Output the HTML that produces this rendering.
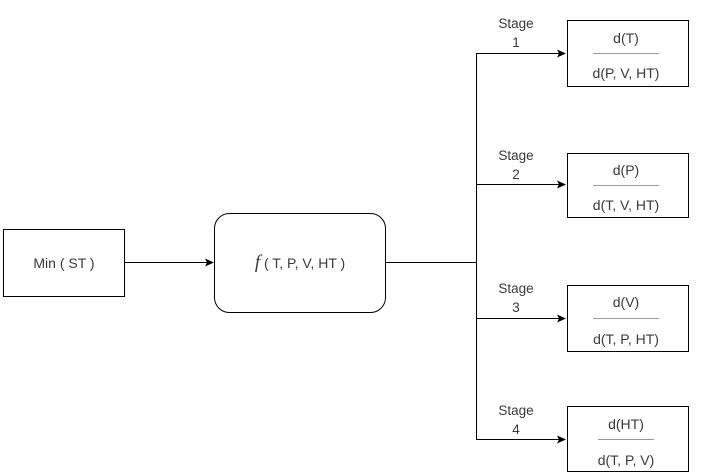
<!DOCTYPE html>
<html><head><meta charset="utf-8"><style>
html,body{margin:0;padding:0;background:#fff;}
svg{display:block;}
text{font-family:"Liberation Sans",Arial,sans-serif;fill:#3a3a3a;font-size:14px;}
.s{font-size:13.5px;}
</style></head><body>
<svg width="701" height="474" viewBox="0 0 701 474" xmlns="http://www.w3.org/2000/svg">
<defs>
<marker id="a" markerWidth="10" markerHeight="10" refX="8" refY="4" orient="auto" markerUnits="userSpaceOnUse">
<path d="M0,0 L9,4 L0,8 L2,4 Z" fill="#000"/>
</marker>
</defs>
<!-- Min box -->
<rect x="3.5" y="229.5" width="121" height="67" fill="#fff" stroke="#000" stroke-width="1"/>
<text x="64" y="268" text-anchor="middle">Min ( ST )</text>
<!-- arrow to f -->
<line x1="124.5" y1="262.5" x2="213" y2="262.5" stroke="#000" stroke-width="1" marker-end="url(#a)"/>
<!-- f box -->
<rect x="214.5" y="213.5" width="171" height="99" rx="15" ry="15" fill="#fff" stroke="#000" stroke-width="1"/>
<text x="300" y="268" text-anchor="middle"><tspan font-style="italic" font-size="19" font-family="Liberation Serif, serif">f</tspan> ( T, P, V, HT )</text>
<!-- connector -->
<line x1="385.5" y1="262.5" x2="476.5" y2="262.5" stroke="#000"/>
<line x1="476.5" y1="53" x2="476.5" y2="439.5" stroke="#000"/>
<line x1="476" y1="53.5" x2="565" y2="53.5" stroke="#000" marker-end="url(#a)"/>
<line x1="476" y1="184.5" x2="565" y2="184.5" stroke="#000" marker-end="url(#a)"/>
<line x1="476" y1="318.5" x2="565" y2="318.5" stroke="#000" marker-end="url(#a)"/>
<line x1="476" y1="439.5" x2="565" y2="439.5" stroke="#000" marker-end="url(#a)"/>
<!-- stage labels -->
<text class="s" x="516" y="28" text-anchor="middle">Stage</text>
<text class="s" x="516" y="47" text-anchor="middle">1</text>
<text class="s" x="516" y="160" text-anchor="middle">Stage</text>
<text class="s" x="516" y="179" text-anchor="middle">2</text>
<text class="s" x="516" y="293" text-anchor="middle">Stage</text>
<text class="s" x="516" y="312" text-anchor="middle">3</text>
<text class="s" x="516" y="415" text-anchor="middle">Stage</text>
<text class="s" x="516" y="434" text-anchor="middle">4</text>
<!-- box 1 -->
<rect x="567.5" y="20.5" width="121" height="66" fill="#fff" stroke="#000"/>
<text x="626" y="43" text-anchor="middle">d(T)</text>
<line x1="593" y1="53.5" x2="659" y2="53.5" stroke="#999"/>
<text x="626" y="78" text-anchor="middle">d(P, V, HT)</text>
<!-- box 2 -->
<rect x="567.5" y="153.5" width="121" height="64" fill="#fff" stroke="#000"/>
<text x="626" y="175" text-anchor="middle">d(P)</text>
<line x1="593" y1="185.5" x2="659" y2="185.5" stroke="#999"/>
<text x="626" y="210" text-anchor="middle">d(T, V, HT)</text>
<!-- box 3 -->
<rect x="567.5" y="285.5" width="121" height="66" fill="#fff" stroke="#000"/>
<text x="626" y="307" text-anchor="middle">d(V)</text>
<line x1="593" y1="318.5" x2="659" y2="318.5" stroke="#999"/>
<text x="626" y="344" text-anchor="middle">d(T, P, HT)</text>
<!-- box 4 -->
<rect x="567.5" y="406.5" width="121" height="65" fill="#fff" stroke="#000"/>
<text x="626" y="429" text-anchor="middle">d(HT)</text>
<line x1="598" y1="439.5" x2="654" y2="439.5" stroke="#999"/>
<text x="626" y="465" text-anchor="middle">d(T, P, V)</text>
</svg>
</body></html>
